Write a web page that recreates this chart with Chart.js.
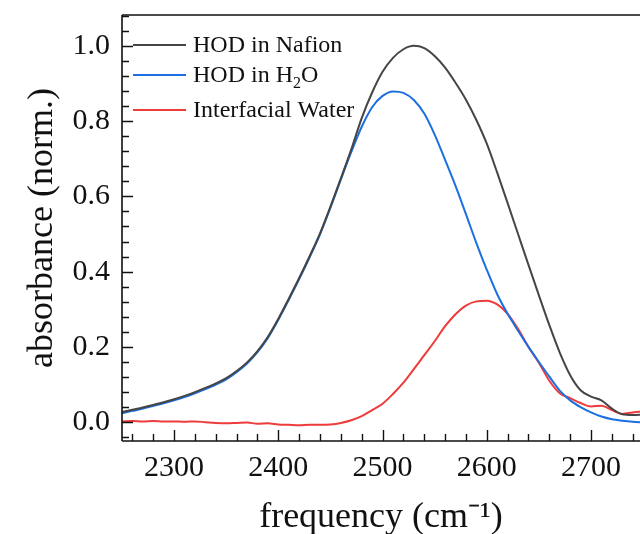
<!DOCTYPE html>
<html>
<head>
<meta charset="utf-8">
<script src="https://cdn.jsdelivr.net/npm/chart.js@4.4.0/dist/chart.umd.min.js"></script>
<style>
  html, body { margin: 0; padding: 0; background: #fff; }
  #wrap { width: 640px; height: 534px; }
</style>
</head>
<body>
<div id="wrap"><canvas id="c" width="640" height="534"></canvas></div>
<script>
// ---- data ----
const frequency = [2250,2260,2270,2280,2290,2300,2310,2320,2330,2340,2350,2360,2370,2380,2390,2400,2410,2420,2430,2440,2450,2460,2470,2480,2490,2500,2510,2520,2530,2540,2550,2560,2570,2580,2590,2600,2610,2620,2630,2640,2650,2660,2670,2680,2690,2700,2710,2720,2730,2740,2750];
const hodNafion = [0.027,0.033,0.039,0.046,0.053,0.061,0.070,0.080,0.091,0.103,0.117,0.136,0.159,0.189,0.227,0.275,0.328,0.383,0.441,0.502,0.573,0.648,0.725,0.808,0.876,0.931,0.968,0.991,1.000,0.994,0.973,0.942,0.902,0.857,0.803,0.740,0.663,0.582,0.500,0.418,0.337,0.258,0.185,0.125,0.085,0.068,0.058,0.036,0.021,0.019,0.020];
const hodH2O = [0.024,0.030,0.036,0.043,0.050,0.058,0.067,0.077,0.088,0.100,0.114,0.133,0.156,0.186,0.224,0.272,0.325,0.380,0.438,0.499,0.570,0.645,0.718,0.785,0.837,0.867,0.879,0.875,0.856,0.820,0.764,0.697,0.628,0.553,0.476,0.405,0.340,0.288,0.243,0.200,0.160,0.121,0.084,0.058,0.040,0.026,0.015,0.008,0.004,0.001,-0.001];
const interfacial = [0.002,0.003,0.002,0.003,0.002,0.002,0.001,0.002,0.000,-0.002,-0.003,-0.002,-0.001,-0.004,-0.003,-0.006,-0.007,-0.008,-0.007,-0.007,-0.006,-0.002,0.005,0.016,0.032,0.049,0.075,0.105,0.141,0.178,0.215,0.255,0.287,0.310,0.321,0.323,0.313,0.288,0.248,0.200,0.158,0.110,0.077,0.064,0.051,0.042,0.044,0.032,0.022,0.026,0.028];
const seriesLabels = ['HOD in Nafion', 'HOD in H\u2082O', 'Interfacial Water'];
const xTickValues = [2300, 2400, 2500, 2600, 2700];
const yTickValues = [0.0, 0.2, 0.4, 0.6, 0.8, 1.0];
const xMinorTicks = [2260,2280,2320,2340,2360,2380,2420,2440,2460,2480,2520,2540,2560,2580,2620,2640,2660,2680,2720,2740];
const yMinorTicks = [-0.04,0.04,0.08,0.12,0.16,0.24,0.28,0.32,0.36,0.44,0.48,0.52,0.56,0.64,0.68,0.72,0.76,0.84,0.88,0.92,0.96,1.04,1.08];

const toXY = arr => frequency.map((f, i) => ({x: f, y: arr[i]}));
const colors = ['#454545', '#1c6fe0', '#ee3b3b'];
const FONT = '"Liberation Serif", "Times New Roman", serif';

const framePlugin = {
  id: 'frame',
  afterDraw(chart) {
    const {ctx, chartArea: a, scales: {x, y}} = chart;
    ctx.save();
    ctx.strokeStyle = '#111';
    ctx.lineWidth = 1.6;
    ctx.beginPath();
    ctx.moveTo(a.left, a.top); ctx.lineTo(a.right, a.top);
    ctx.moveTo(a.left, a.top); ctx.lineTo(a.left, a.bottom);
    ctx.moveTo(a.left, a.bottom); ctx.lineTo(a.right, a.bottom);
    ctx.stroke();
    ctx.lineWidth = 1.4;
    ctx.beginPath();
    xTickValues.forEach(v => { const px = Math.round(x.getPixelForValue(v)) + 0.5; ctx.moveTo(px, a.bottom); ctx.lineTo(px, a.bottom - 11); });
    xMinorTicks.forEach(v => { const px = Math.round(x.getPixelForValue(v)) + 0.5; ctx.moveTo(px, a.bottom); ctx.lineTo(px, a.bottom - 7); });
    yTickValues.forEach(v => { const py = Math.round(y.getPixelForValue(v)) + 0.5; ctx.moveTo(a.left, py); ctx.lineTo(a.left + 11, py); });
    yMinorTicks.forEach(v => { const py = Math.round(y.getPixelForValue(v)) + 0.5; ctx.moveTo(a.left, py); ctx.lineTo(a.left + 7, py); });
    ctx.stroke();
    // legend
    const rows = [45, 75, 110];
    ctx.font = '24px ' + FONT;
    ctx.textBaseline = 'middle';
    ctx.fillStyle = '#111';
    chart.data.datasets.forEach((ds, i) => {
      const yy = rows[i];
      ctx.strokeStyle = ds.borderColor;
      ctx.lineWidth = 2;
      ctx.beginPath(); ctx.moveTo(133, yy); ctx.lineTo(186, yy); ctx.stroke();
      if (i === 1) {
        let xx = 193;
        ctx.fillText('HOD in H', xx, yy + 1);
        xx += ctx.measureText('HOD in H').width;
        ctx.font = '16px ' + FONT;
        ctx.fillText('2', xx, yy + 9);
        xx += ctx.measureText('2').width;
        ctx.font = '24px ' + FONT;
        ctx.fillText('O', xx, yy + 1);
      } else {
        ctx.fillText(ds.label, 193, yy + 1);
      }
    });
    ctx.restore();
  }
};

new Chart(document.getElementById('c'), {
  type: 'line',
  data: {
    datasets: [
      {label: seriesLabels[0], data: toXY(hodNafion), borderColor: colors[0]},
      {label: seriesLabels[1], data: toXY(hodH2O), borderColor: colors[1]},
      {label: seriesLabels[2], data: toXY(interfacial), borderColor: colors[2]}
    ].map(d => Object.assign(d, {borderWidth: 2, pointRadius: 0, fill: false, tension: 0.4, cubicInterpolationMode: 'monotone'}))
  },
  options: {
    responsive: false,
    animation: false,
    layout: {padding: {top: 15, right: 0, left: 0, bottom: 0}},
    plugins: {legend: {display: false}, tooltip: {enabled: false}},
    scales: {
      x: {
        type: 'linear', min: 2250, max: 2747,
        afterFit: s => { s.height = 93; s.paddingLeft = 0; s.paddingRight = 0; },
        afterBuildTicks: s => { s.ticks = xTickValues.map(v => ({value: v})); },
        grid: {display: false, drawTicks: false},
        border: {display: false},
        ticks: {color: '#111', font: {family: FONT, size: 30}, padding: 9, maxRotation: 0, autoSkip: false, callback: v => String(v)},
        title: {display: true, text: 'frequency (cm\u207B\u00B9)', color: '#111', font: {family: FONT, size: 36, lineHeight: 0.92}, padding: {top: 0, bottom: 0}}
      },
      y: {
        type: 'linear', min: -0.05, max: 1.082,
        afterFit: s => { s.width = 122; s.paddingTop = 0; s.paddingBottom = 0; },
        afterBuildTicks: s => { s.ticks = yTickValues.map(v => ({value: v})); },
        grid: {display: false, drawTicks: false},
        border: {display: false},
        ticks: {color: '#111', font: {family: FONT, size: 30}, padding: 12, autoSkip: false, callback: v => v.toFixed(1)},
        title: {display: true, text: 'absorbance (norm.)', color: '#111', font: {family: FONT, size: 36, lineHeight: 1}, padding: {top: 25, bottom: 0}}
      }
    }
  },
  plugins: [framePlugin]
});
</script>
</body>
</html>
